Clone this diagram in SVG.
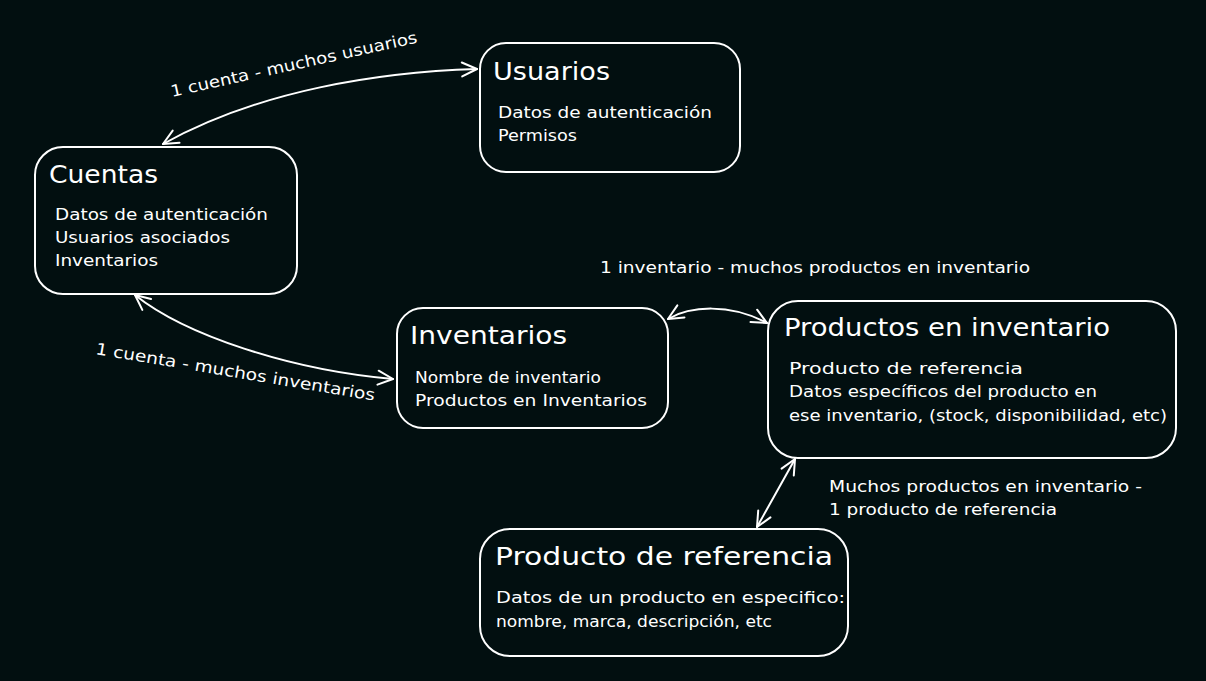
<svg xmlns="http://www.w3.org/2000/svg" width="1206" height="681" viewBox="0 0 1206 681">
<style>
.box{fill:#020f10;stroke:#ffffff;stroke-width:2}
.t{fill:#ffffff;font-family:"DejaVu Sans","Liberation Sans",sans-serif;font-size:24px}
.b{fill:#ffffff;font-family:"DejaVu Sans","Liberation Sans",sans-serif;font-size:16px}
.c{fill:none;stroke:#ffffff;stroke-width:2;stroke-linecap:round}
</style>
<defs>
<marker id="ah" viewBox="-18 -10 22 20" refX="0" refY="0" markerWidth="22" markerHeight="20" markerUnits="userSpaceOnUse" orient="auto-start-reverse">
<path d="M -15,-7 L 0,0 L -15,7" fill="none" stroke="#ffffff" stroke-width="2" stroke-linecap="round" stroke-linejoin="round"/>
</marker>
</defs>
<rect width="1206" height="681" fill="#020f10"/>
<g id="connectors">
<path class="c" d="M 477,69 C 380,72 260,90 163,144" marker-start="url(#ah)" marker-end="url(#ah)"/>
<path class="c" d="M 135,295 C 185,335 290,370 393,379" marker-start="url(#ah)" marker-end="url(#ah)"/>
<path class="c" d="M 668,319 C 690,306 730,303 767,323" marker-start="url(#ah)" marker-end="url(#ah)"/>
<path class="c" d="M 795,459 L 757,527" marker-start="url(#ah)" marker-end="url(#ah)"/>
<text class="b" x="172" y="97" textLength="252" lengthAdjust="spacingAndGlyphs" transform="rotate(-12.5 172 97)">1 cuenta - muchos usuarios</text>
<text class="b" x="95" y="354" textLength="283" lengthAdjust="spacingAndGlyphs" transform="rotate(9.5 95 354)">1 cuenta - muchos inventarios</text>
<text class="b" x="600" y="273" textLength="430" lengthAdjust="spacingAndGlyphs">1 inventario - muchos productos en inventario</text>
<text class="b" x="829" y="492" textLength="313" lengthAdjust="spacingAndGlyphs">Muchos productos en inventario -</text>
<text class="b" x="829" y="515" textLength="228" lengthAdjust="spacingAndGlyphs">1 producto de referencia</text>
</g>
<g id="usuarios">
<rect class="box" x="480" y="43" width="260" height="129" rx="26"/>
<text class="t" x="493" y="80" textLength="117" lengthAdjust="spacingAndGlyphs">Usuarios</text>
<text class="b" x="498" y="118" textLength="214" lengthAdjust="spacingAndGlyphs">Datos de autenticación</text>
<text class="b" x="498" y="141" textLength="79" lengthAdjust="spacingAndGlyphs">Permisos</text>
</g>
<g id="cuentas">
<rect class="box" x="35" y="147" width="262" height="147" rx="28"/>
<text class="t" x="49" y="183" textLength="109" lengthAdjust="spacingAndGlyphs">Cuentas</text>
<text class="b" x="55" y="220" textLength="213" lengthAdjust="spacingAndGlyphs">Datos de autenticación</text>
<text class="b" x="55" y="243" textLength="175" lengthAdjust="spacingAndGlyphs">Usuarios asociados</text>
<text class="b" x="55" y="266" textLength="103" lengthAdjust="spacingAndGlyphs">Inventarios</text>
</g>
<g id="inventarios">
<rect class="box" x="397" y="308" width="271" height="120" rx="26"/>
<text class="t" x="410" y="344" textLength="157" lengthAdjust="spacingAndGlyphs">Inventarios</text>
<text class="b" x="415" y="383" textLength="186" lengthAdjust="spacingAndGlyphs">Nombre de inventario</text>
<text class="b" x="415" y="406" textLength="232" lengthAdjust="spacingAndGlyphs">Productos en Inventarios</text>
</g>
<g id="productos-en-inventario">
<rect class="box" x="768" y="301" width="408" height="157" rx="30"/>
<text class="t" x="784" y="336" textLength="326" lengthAdjust="spacingAndGlyphs">Productos en inventario</text>
<text class="b" x="789" y="374" textLength="234" lengthAdjust="spacingAndGlyphs">Producto de referencia</text>
<text class="b" x="789" y="397" textLength="308" lengthAdjust="spacingAndGlyphs">Datos específicos del producto en</text>
<text class="b" x="789" y="421" textLength="378" lengthAdjust="spacingAndGlyphs">ese inventario, (stock, disponibilidad, etc)</text>
</g>
<g id="producto-de-referencia">
<rect class="box" x="480" y="529" width="368" height="127" rx="30"/>
<text class="t" x="495" y="565" textLength="338" lengthAdjust="spacingAndGlyphs">Producto de referencia</text>
<text class="b" x="496" y="603" textLength="349" lengthAdjust="spacingAndGlyphs">Datos de un producto en especifico:</text>
<text class="b" x="496" y="627" textLength="276" lengthAdjust="spacingAndGlyphs">nombre, marca, descripción, etc</text>
</g>
</svg>
